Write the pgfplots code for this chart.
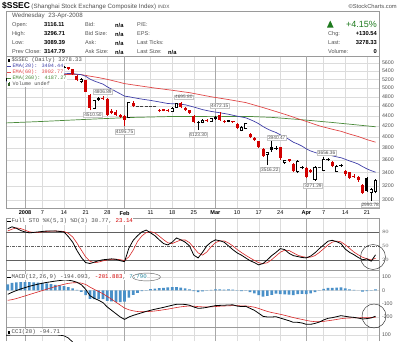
\documentclass[border=0pt]{standalone}
\usepackage{pgfplots}
\usepackage{pgfplotstable}
\pgfplotsset{compat=1.18}
\usepackage{fontspec}
\setmainfont{Liberation Sans}
\newfontfamily\monof{Liberation Mono}

\definecolor{cred}{HTML}{D00000}
\definecolor{emaA}{HTML}{4040A8}
\definecolor{emaB}{HTML}{E04848}
\definecolor{emaC}{HTML}{4A8A3A}
\definecolor{gridc}{HTML}{DCDCDC}
\definecolor{monthc}{HTML}{A8A8A8}
\definecolor{framec}{HTML}{9A9A9A}
\definecolor{histc}{HTML}{4A90C8}
\definecolor{txt}{HTML}{505050}
\definecolor{upg}{HTML}{1E7A1E}
\definecolor{teal}{HTML}{2A8AA0}

\pgfplotsset{
  panel/.style={
    scale only axis, anchor=north west, width=373bp,
    xmin=-3.4, xmax=82.8,
    axis line style={draw=framec, line width=0.5bp},
    tick style={draw=none},
    yticklabel pos=right,
    yticklabel style={font=\fontsize{5.3}{6}\selectfont, text=txt, xshift=-0.5bp},
    xmajorgrids=true, ymajorgrids=true,
    major grid style={draw=gridc, line width=0.4bp},
    xtick={5,10,15,20,30,35,40,50,55,60,70,75,80},
    extra x ticks={1,24,45,66},
    extra x tick style={major grid style={draw=monthc, line width=0.6bp}},
    unbounded coords=jump,
  },
}
\tikzset{plab/.style={font=\fontsize{4.8}{5}\selectfont, draw=gray!45, fill=white, inner sep=0.7bp, line width=0.3bp, text=txt}}

% ---------- candle data ----------
\pgfplotstableread{
d p
-3 5150
-3 5230
-3 nan
-2 5200
-2 5290
-2 nan
0 5220
0 5280
0 nan
2 5202
2 5295
2 nan
3 5260
3 5330
3 nan
4 5300
4 5370
4 nan
5 5330
5 5400
5 nan
7 5370
7 5440
7 nan
8 5420
8 5470
8 nan
9 5440
9 5490
9 nan
10 5470
10 5522
10 nan
14 5100
14 5230
14 nan
17 4540
17 4740
17 nan
18 4710
18 4790
18 nan
25 4370
25 4680
25 nan
35 4490
35 4580
35 nan
36 4570
36 4660
36 nan
41 4123.30
41 4300
41 nan
42 4250
42 4340
42 nan
44 4280
44 4360
44 nan
45 4320
45 4400
45 nan
48 4270
48 4320
48 nan
51 4100
51 4200
51 nan
52 4140
52 4260
52 nan
57 3516.22
57 3740
57 nan
58 3740
58 3940.47
58 nan
59 3770
59 3830
59 nan
61 3530
61 3600
61 nan
64 3390
64 3600
64 nan
65 3450
65 3500
65 nan
68 3271.29
68 3500
68 nan
70 3430
70 3656.36
70 nan
71 3580
71 3640
71 nan
73 3400
73 3520
73 nan
74 3490
74 3530
74 nan
80 3110
80 3330
80 nan
81 2990.78
81 3170
81 nan
82 3089.39
82 3296.71
}\wickB

\pgfplotstableread{
d p
-1 5230
-1 5300
-1 nan
6 5360
6 5420
6 nan
11 5430
11 5510
11 nan
12 5300
12 5450
12 nan
13 5150
13 5300
13 nan
15 4900
15 5190
15 nan
16 4510.50
16 4870
16 nan
19 4740
19 4806.89
19 nan
20 4400
20 4770
20 nan
21 4430
21 4540
21 nan
22 4400
22 4520
22 nan
23 4360
23 4440
23 nan
24 4195.75
24 4410
24 nan
26 4580
26 4700
26 nan
32 4470
32 4540
32 nan
33 4490
33 4545
33 nan
34 4470
34 4530
34 nan
37 4560
37 4695.80
37 nan
38 4500
38 4590
38 nan
39 4440
39 4520
39 nan
40 4250
40 4410
40 nan
43 4270
43 4330
43 nan
46 4300
46 4472.15
46 nan
47 4250
47 4320
47 nan
49 4260
49 4300
49 nan
50 4150
50 4250
50 nan
53 3970
53 4070
53 nan
54 3930
54 4000
54 nan
55 3800
55 3930
55 nan
56 3650
56 3800
56 nan
60 3600
60 3820
60 nan
62 3560
62 3620
62 nan
63 3400
63 3550
63 nan
66 3320
66 3480
66 nan
67 3390
67 3460
67 nan
72 3480
72 3590
72 nan
75 3350
75 3440
75 nan
76 3300
76 3410
76 nan
77 3320
77 3370
77 nan
78 3260
78 3340
78 nan
79 3080
79 3220
}\wickR

\pgfplotstableread{
d p
-3 5180
-3 5210
-3 nan
-2 5215
-2 5280
-2 nan
0 5250
0 5262
0 nan
2 5265
2 5273
2 nan
3 5280
3 5320
3 nan
4 5320
4 5362
4 nan
5 5360
5 5393
5 nan
7 5390
7 5436
7 nan
8 5436
8 5457
8 nan
9 5460
9 5484
9 nan
10 5480
10 5498
10 nan
14 5140
14 5200
14 nan
17 4560
17 4730
17 nan
18 4740
18 4762
18 nan
25 4380
25 4672
25 nan
35 4500
35 4560
35 nan
36 4580
36 4650
36 nan
42 4270
42 4320
42 nan
44 4290
44 4348
44 nan
45 4360
45 4380
45 nan
48 4290
48 4305
48 nan
51 4120
51 4180
51 nan
52 4150
52 4250
52 nan
57 3700
57 3720
57 nan
61 3555
61 3590
61 nan
64 3420
64 3580
64 nan
68 3300
68 3480
68 nan
70 3440
70 3610
70 nan
73 3420
73 3490
73 nan
81 3100
81 3147.79
81 nan
82 3116.11
82 3278.33
}\bodyH

\pgfplotstableread{
d p
-1 5280
-1 5250
-1 nan
6 5400
6 5380
6 nan
11 5500
11 5444
11 nan
12 5440
12 5320
12 nan
13 5280
13 5170
13 nan
15 5180
15 4914
15 nan
16 4850
16 4560
16 nan
19 4780
19 4761
19 nan
20 4760
20 4419
20 nan
21 4500
21 4460
21 nan
22 4480
22 4420
22 nan
23 4420
23 4383
23 nan
24 4400
24 4320
24 nan
26 4660
26 4600
26 nan
32 4520
32 4491
32 nan
33 4530
33 4505
33 nan
34 4515
34 4495
34 nan
37 4670
37 4580
37 nan
38 4570
38 4520
38 nan
39 4510
39 4460
39 nan
40 4400
40 4280
40 nan
43 4320
43 4290
43 nan
46 4420
46 4320
46 nan
47 4300
47 4280
47 nan
50 4240
50 4160
50 nan
53 4050
53 3990
53 nan
54 3985
54 3945
54 nan
55 3920
55 3820
55 nan
56 3790
56 3669
56 nan
60 3810
60 3626
60 nan
62 3610
62 3575
62 nan
63 3540
63 3420
63 nan
66 3470
66 3330
66 nan
67 3440
67 3410
67 nan
72 3570
72 3500
72 nan
75 3430
75 3370
75 nan
76 3400
76 3320
76 nan
77 3350
77 3335
77 nan
78 3330
78 3280
78 nan
79 3210
79 3095
}\bodyR

\pgfplotstableread{
d p
41 4270
41 4250
41 nan
58 3810
58 3760
58 nan
80 3320
80 3130
}\bodyB

% ---------- moving averages ----------
\pgfplotstableread{
d p
-3.4 5150
-1 5175
1 5191
3 5211
5 5241
7 5272
9 5308
10 5326
11 5338
12 5336
13 5320
14 5309
15 5271
16 5203
17 5158
18 5121
19 5086
20 5023
21 4969
22 4917
23 4866
24 4814
25 4801
26 4782
28 4749
30 4722
32 4689
34 4655
36 4646
38 4629
40 4581
42 4528
44 4490
46 4464
48 4433
50 4394
52 4362
53 4327
54 4290
55 4245
56 4191
57 4146
58 4109
59 4079
60 4036
61 3994
62 3954
63 3903
64 3872
65 3834
66 3786
67 3750
68 3725
69 3701
70 3693
71 3685
72 3668
73 3651
74 3637
75 3611
76 3584
77 3560
78 3533
79 3492
80 3457
81 3428
82 3404.44
}\emaA

\pgfplotstableread{
d p
-3.4 5300
4 5308
10 5315
14 5310
16 5273
18 5239
20 5197
22 5148
24 5097
26 5067
31 4995
35 4945
39 4891
44 4800
48 4740
52 4675
56 4570
59 4488
62 4405
64 4345
66 4290
69 4204
72 4140
74 4102
76 4050
78 4005
80 3950
82 3902.77
}\emaB

\pgfplotstableread{
d p
-3.4 4261
5 4290
15 4330
25 4367
35 4388
45 4390
53 4388
58 4370
64.5 4327
72 4270
79 4212
82 4187.27
}\emaC

% ---------- stochastics ----------
\pgfplotstableread{
d K D
-3 87 82
-2 91 86
-1 88 88.7
0 83 87.3
1 80 83.7
2 78 80.3
3 79 79
4 80 79
5 81 80
6 82 81
7 82 81.7
8 82 82
9 81 81.7
10 80 81
11 70 77
12 58 69.3
13 40 56
14 25 41
15 14 26.3
16 12 17
17 15 13.7
18 18 15
19 20 17.7
20 21 19.7
21 22 21
22 21 21.3
23 18 20.3
24 16 18.3
25 45 26.3
26 62 41
27 72 59.7
28 80 71.3
29 84 78.7
30 78 80.7
31 72 78
32 63 71
33 55 63.3
34 52 56.7
35 58 55
36 67 59
37 63 62.7
38 58 62.7
39 50 57
40 30 46
41 24 34.7
42 36 30
43 50 36.7
44 58 48
45 63 57
46 61 60.7
47 58 60.7
48 50 56.3
49 42 50
50 35 42.3
51 30 35.7
52 24 29.7
53 18 24
54 14 18.7
55 9 13.7
56 12 11.7
57 20 13.7
58 29 20.3
59 36 28.3
60 44 36.3
61 42 40.7
62 34 40
63 29 35
64 27 30
65 25 27
66 24 25.3
67 28 25.7
68 35 29
69 44 35.7
70 52 43.7
71 60 52
72 62 58
73 59 60.3
74 55 58.7
75 43 52.3
76 36 44.7
77 31 36.7
78 25 30.7
79 20 25.3
80 22 22.3
81 17 19.7
82 30.77 23.14
}\stoch

% ---------- MACD ----------
\pgfplotstableread{
d M S H
-3 -30 -75 45
-2 -15 -70 55
-1 -2 -62 60
0 10 -52 62
1 20 -42 62
2 30 -32 62
3 38 -22 60
4 46 -12 58
5 53 -2 55
6 59 8 51
7 64 18 46
8 69 28 41
9 73 37 36
10 77 45 32
11 76 52 24
12 70 56 14
13 60 57 3
14 42 54 -12
15 8 44 -36
16 -40 24 -64
17 -60 7 -67
18 -75 -9 -66
19 -92 -26 -66
20 -125 -46 -79
21 -150 -67 -83
22 -175 -89 -86
23 -200 -111 -89
24 -218 -133 -85
25 -200 -146 -54
26 -188 -154 -34
27 -178 -159 -19
28 -168 -161 -7
29 -158 -160 2
30 -150 -158 8
31 -142 -155 13
32 -135 -151 16
33 -128 -146 18
34 -120 -141 21
35 -112 -135 23
36 -105 -129 24
37 -104 -124 20
38 -106 -120 14
39 -112 -118 6
40 -125 -119 -6
41 -135 -122 -13
42 -133 -124 -9
43 -128 -125 -3
44 -121 -124 3
45 -115 -122 7
46 -113 -119.2 6.2
47 -112 -117.8 5.8
48 -110 -116.2 6.2
49 -109 -114.8 5.8
50 -118 -115.4 -2.6
51 -122 -116.7 -5.3
52 -120 -117.4 -2.6
53 -135 -120.9 -14.1
54 -150 -126.7 -23.3
55 -172 -135.8 -36.2
56 -195 -147.6 -47.4
57 -200 -158.1 -41.9
58 -200 -166.5 -33.5
59 -198 -172.8 -25.2
60 -208 -179.8 -28.2
61 -218 -187.4 -30.6
62 -228 -195.5 -32.5
63 -240 -204.4 -35.6
64 -240 -211.5 -28.5
65 -245 -218.2 -26.8
66 -255 -225.6 -29.4
67 -255 -231.5 -23.5
68 -248 -234.8 -13.2
69 -238 -235.4 -2.6
70 -222 -232.7 10.7
71 -210 -228.2 18.2
72 -205 -223.6 18.6
73 -198 -218.5 20.5
74 -190 -212.8 22.8
75 -195 -209.2 14.2
76 -200 -207.4 7.4
77 -203 -206.5 3.5
78 -208 -206.8 -1.2
79 -215 -205 -10
80 -212 -205.5 -6.5
81 -207 -203.8 -3.2
82 -194.093 -201.883 7.79
}\macd

\begin{document}
\begin{tikzpicture}[font=\fontsize{6}{7}\selectfont]
\path[use as bounding box] (0,0) rectangle (400bp,-362bp);

% ---------------- header ----------------
\node[anchor=west, inner sep=0] at (2bp,-6bp) {{\bfseries\fontsize{8.5}{9}\selectfont \$SSEC}\hspace{1.5bp}{\fontsize{6.2}{7}\selectfont\color{txt}(Shanghai Stock Exchange Composite Index)}\hspace{2bp}{\fontsize{4.8}{6}\selectfont\color{txt}INDX}};
\node[anchor=east, inner sep=0, text=txt, font=\fontsize{5.8}{7}\selectfont] at (397bp,-6.5bp) {\textcopyright StockCharts.com};
\draw[framec, line width=0.5bp] (6bp,-11bp) rectangle (379bp,-56bp);

\node[anchor=west, inner sep=0, font=\fontsize{6.2}{7}\selectfont, text=txt] at (12bp,-16bp) {Wednesday\hspace{2bp} 23-Apr-2008};
\begin{scope}[every node/.style={anchor=west, inner sep=0, font=\fontsize{5.6}{7}\selectfont, text=txt}]
\node at (12bp,-25bp) {Open:};
\node at (12bp,-34bp) {High:};
\node at (12bp,-43bp) {Low:};
\node at (12bp,-52bp) {Prev Close:};
\node at (85bp,-25bp) {Bid:};
\node at (85bp,-34bp) {Bid Size:};
\node at (85bp,-43bp) {Ask:};
\node at (85bp,-52bp) {Ask Size:};
\node at (137bp,-25bp) {P/E:};
\node at (137bp,-34bp) {EPS:};
\node at (137bp,-43bp) {Last Ticks:};
\node at (137bp,-52bp) {Last Size:};
\node at (328bp,-34bp) {Chg:};
\node at (328bp,-43bp) {Last:};
\node at (328bp,-52bp) {Volume:};
\end{scope}
\begin{scope}[every node/.style={anchor=west, inner sep=0, font=\bfseries\fontsize{5.8}{7}\selectfont, text=black}]
\node at (44bp,-25bp) {3116.11};
\node at (44bp,-34bp) {3296.71};
\node at (44bp,-43bp) {3089.39};
\node at (44bp,-52bp) {3147.79};
\node at (115bp,-25bp) {n/a};
\node at (115bp,-34bp) {n/a};
\node at (115bp,-43bp) {n/a};
\node at (115bp,-52bp) {n/a};
\node at (168bp,-52bp) {n/a};
\end{scope}
\begin{scope}[every node/.style={anchor=east, inner sep=0, font=\bfseries\fontsize{5.8}{7}\selectfont, text=black}]
\node at (377bp,-34bp) {+130.54};
\node at (377bp,-43bp) {3278.33};
\node at (377bp,-52bp) {0};
\end{scope}
\node[anchor=east, inner sep=0, font=\fontsize{9}{10}\selectfont, text=upg] at (377bp,-24bp) {+4.15\%};
\fill[upg] (327bp,-27.5bp) -- (333.5bp,-27.5bp) -- (330.25bp,-20.5bp) -- cycle;

% ---------------- price panel ----------------
\begin{axis}[panel, at={(6bp,-56bp)}, height=152bp,
  ymode=log, ymin=2892, ymax=5781,
  ytick={3000,3200,3400,3600,3800,4000,4200,4400,4600,4800,5000,5200,5400,5600},
  yticklabels={3000,3200,3400,3600,3800,4000,4200,4400,4600,4800,5000,5200,5400,5600},
  xticklabels={7,14,21,28,11,18,25,10,17,24,7,14,21},
  extra x tick labels={\textbf{2008},\textbf{Feb},\textbf{Mar},\textbf{Apr}},
  xticklabel style={font=\fontsize{5.6}{6}\selectfont, text=black, yshift=0.5bp},
]
\addplot[emaC, line width=0.7bp] table[x=d,y=p] {\emaC};
\addplot[emaB, line width=0.7bp] table[x=d,y=p] {\emaB};
\addplot[emaA, line width=0.7bp] table[x=d,y=p] {\emaA};
% wicks
\addplot[black, line width=0.5bp] table[x=d,y=p] {\wickB};
\addplot[cred, line width=0.5bp] table[x=d,y=p] {\wickR};
% red bodies
\addplot[cred, line width=3bp] table[x=d,y=p] {\bodyR};
% black filled bodies
\addplot[black, line width=3bp] table[x=d,y=p] {\bodyB};
% hollow bodies
\addplot[black, line width=3.2bp] table[x=d,y=p] {\bodyH};
\addplot[white, line width=1.8bp] table[x=d,y=p] {\bodyH};
\addplot[black, only marks, mark=-, mark size=1.6bp, mark options={line width=0.6bp}] table[x=d,y=p] {\bodyH};
% doji and holiday dashes
\addplot[black, only marks, mark=-, mark size=1.8bp, mark options={line width=0.8bp}] coordinates {(59,3797) (65,3472.71) (71,3615) (74,3505)};
\addplot[cred, only marks, mark=-, mark size=1.8bp, mark options={line width=0.8bp}] coordinates {(49,4285)};
\addplot[black!75, only marks, mark=-, mark size=1.5bp, mark options={line width=0.6bp}] coordinates {(1,5262) (27,4600) (28,4600) (29,4600) (30,4600) (31,4600) (69,3480)};
% value labels
\node[plab, anchor=south, yshift=2bp] at (axis cs:19,4806.89) {4806.89};
\node[plab, anchor=north, yshift=-2bp, xshift=3bp] at (axis cs:16,4510.50) {4510.50};
\node[plab, anchor=north, yshift=-3bp] at (axis cs:24,4195.75) {4195.75};
\node[plab, anchor=south, yshift=2bp, xshift=3bp] at (axis cs:37,4695.80) {4695.80};
\node[plab, anchor=south, yshift=4bp] at (axis cs:46,4472.15) {4472.15};
\node[plab, anchor=north, yshift=-2bp] at (axis cs:41,4123.30) {4123.30};
\node[plab, anchor=south, yshift=0bp, xshift=5bp] at (axis cs:58,3940.47) {3940.47};
\node[plab, anchor=north, yshift=-2bp, xshift=2.5bp] at (axis cs:57,3516.22) {3516.22};
\node[plab, anchor=south, yshift=1bp, xshift=3bp] at (axis cs:70,3656.36) {3656.36};
\node[plab, anchor=north, yshift=-2bp, xshift=-2bp] at (axis cs:68,3271.29) {3271.29};
\node[plab, anchor=north, yshift=-2bp, xshift=-1bp] at (axis cs:81,2990.78) {2990.78};
\end{axis}

% legend of price panel
\begin{scope}[every node/.style={anchor=west, inner sep=0.4bp, fill=white, font=\monof\fontsize{5.2}{6}\selectfont}]
\fill[white] (6.5bp,-56.5bp) rectangle (62bp,-86.5bp);
\node[text=txt, font=\monof\fontsize{5.6}{6}\selectfont] at (11bp,-60bp) {\$SSEC (Daily) 3278.33};
\node[text=emaA] at (12bp,-66bp) {EMA(20): 3404.44};
\node[text=emaB] at (12bp,-72bp) {EMA(60): 3902.77};
\node[text=emaC] at (12bp,-78bp) {EMA(260): 4187.27};
\node[text=txt] at (12bp,-84bp) {Volume undef};
\end{scope}
\fill[black] (7.5bp,-61.8bp) rectangle (9.5bp,-58.5bp);
\draw[emaA, line width=0.6bp] (7bp,-66bp) -- (11bp,-66bp);
\draw[emaB, line width=0.6bp] (7bp,-72bp) -- (11bp,-72bp);
\draw[emaC, line width=0.6bp] (7bp,-78bp) -- (11bp,-78bp);
\fill[emaC!70!black] (7.5bp,-85.5bp) rectangle (8.3bp,-83bp);
\fill[emaC!70!black] (8.8bp,-85.5bp) rectangle (9.6bp,-82bp);

% ---------------- stochastics ----------------
\begin{axis}[panel, at={(6bp,-218bp)}, height=52bp,
  ymin=-2, ymax=110, ytick={20,50,80}, ymajorgrids=false,
  xticklabels={}, extra x tick labels={},
]
\addplot[gray!75!black, line width=0.5bp] coordinates {(-3.4,80) (82.8,80)};
\addplot[gray!75!black, line width=0.5bp] coordinates {(-3.4,20) (82.8,20)};
\addplot[gray!75!black, line width=0.5bp, dash pattern=on 3bp off 1.2bp on 0.8bp off 1.2bp] coordinates {(-3.4,50) (82.8,50)};
\addplot[cred!85, line width=0.6bp] table[x=d,y=D] {\stoch};
\addplot[black, line width=0.8bp] table[x=d,y=K] {\stoch};
\end{axis}
\node[anchor=west, inner sep=0.4bp, fill=white, font=\monof\fontsize{5.8}{6}\selectfont, text=txt] at (11bp,-221.5bp) {Full STO \%K(5,3) \%D(3) 30.77, {\color{cred}23.14}};
\draw[black, line width=0.6bp] (7bp,-221.5bp) -- (10.5bp,-221.5bp);

% ---------------- MACD ----------------
\begin{axis}[panel, at={(6bp,-270bp)}, height=57bp,
  ymin=-275, ymax=152, ytick={-200,-100,0,100},
  yticklabels={-200,-100,0,100},
  xticklabels={}, extra x tick labels={},
]
\addplot[ybar, bar width=2.7bp, fill=histc, draw=none, bar shift=0pt] table[x=d,y=H] {\macd};
\addplot[cred!85, line width=0.6bp] table[x=d,y=S] {\macd};
\addplot[black, line width=0.8bp] table[x=d,y=M] {\macd};
\end{axis}
\node[anchor=west, inner sep=0.4bp, fill=white, font=\monof\fontsize{5.8}{6}\selectfont, text=txt] at (11bp,-277bp) {MACD(12,26,9) -194.093, {\color{cred}-201.883}, {\color{teal}7.790}};
\draw[black, line width=0.6bp] (7bp,-277bp) -- (10.5bp,-277bp);
\draw[gray!70!black, line width=0.4bp] (146.5bp,-277bp) ellipse (14bp and 3.9bp);

% ---------------- CCI ----------------
\begin{axis}[panel, at={(6bp,-327bp)}, height=14bp,
  ymin=40, ymax=180, ytick={100}, yticklabels={100},
  xticklabels={}, extra x tick labels={},
  separate axis lines, x axis line style={draw=none},
]
\addplot[black, line width=0.7bp] coordinates {(-3.4,98) (0,100) (4,101) (8,100) (9,98) (10,92) (11,70) (12,30)};
\end{axis}
\draw[framec, line width=0.5bp] (6bp,-327bp) -- (379bp,-327bp);
\node[anchor=west, inner sep=0.4bp, fill=white, font=\monof\fontsize{5.8}{6}\selectfont, text=txt] at (11bp,-332bp) {CCI(20) -94.71};
\fill[black] (7.5bp,-333.5bp) rectangle (9.5bp,-330.5bp);

% annotation circles
\draw[gray!40!black, line width=0.45bp] (373bp,-257bp) circle (12.5bp);
\draw[gray!40!black, line width=0.45bp] (374bp,-316bp) circle (12bp);
\end{tikzpicture}
\end{document}
